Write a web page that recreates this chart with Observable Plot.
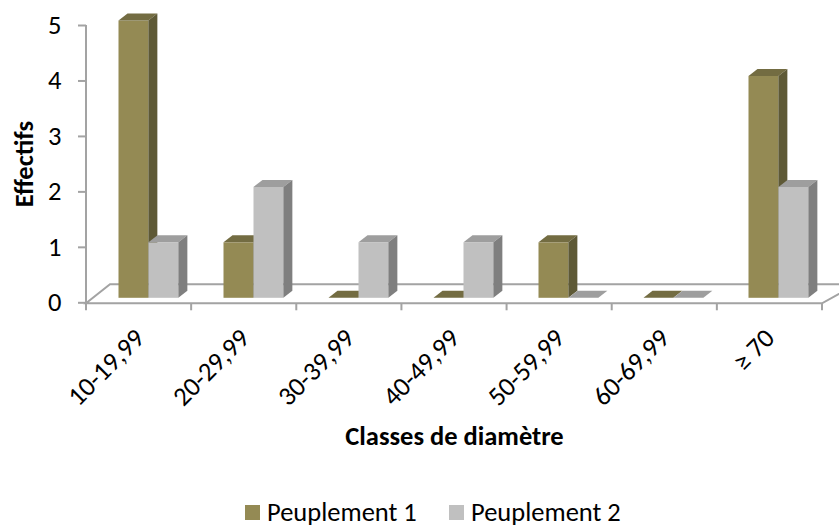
<!DOCTYPE html>
<html>
<head>
<meta charset="utf-8">
<script src="https://cdn.jsdelivr.net/npm/d3@7"></script>
<script src="https://cdn.jsdelivr.net/npm/@observablehq/plot@0.6"></script>
<style>
  body { margin: 0; background: #fff; }
  #wrap { position: relative; width: 839px; height: 527px; background: #fff; font-family: Carlito, Calibri, Lato, sans-serif; }
  #chart { position: absolute; left: 0; top: 0; }
  .item { position: absolute; top: 498px; height: 28px; display: flex; align-items: center; font-size: 26.5px; line-height: 28px; color: #000; white-space: nowrap; }
  .sw { width: 15px; height: 15px; margin-right: 7px; }
</style>
</head>
<body>
<div id="wrap">
  <div id="chart"></div>
  <div id="legend"></div>
</div>
<script>
// ---- data ----
const categories = ["10-19,99", "20-29,99", "30-39,99", "40-49,99", "50-59,99", "60-69,99", "≥ 70"];
const peuplement1 = [5, 1, 0, 0, 1, 0, 4];
const peuplement2 = [1, 2, 1, 1, 0, 0, 2];
const seriesNames = ["Peuplement 1", "Peuplement 2"];
const yTicks = [0, 1, 2, 3, 4, 5];
const xTitle = "Classes de diamètre";
const yTitle = "Effectifs";

// ---- styles ----
const frontColors = ["#948A54", "#C0C0C0"];
const topColors = ["#736C42", "#9E9E9E"];
const sideColors = ["#5E5936", "#7F7F7F"];
const gridColor = "#A3A3A3";
const FONT = "Carlito, Calibri, Lato, sans-serif";
const FS = 26.5;

const seriesValues = [peuplement1, peuplement2];
const data = categories.flatMap((c, i) =>
  seriesNames.map((s, k) => ({cat: c, series: s, k, value: seriesValues[k][i]})));

const DX = 9, DY = 7; // bar depth in pixels
const NS = "http://www.w3.org/2000/svg";

function bars3d(k, insetLeft, insetRight) {
  return Plot.barY(data.filter(d => d.k === k), {
    x: "cat", y: "value", fill: frontColors[k],
    insetLeft, insetRight, dy: -4.5,
    render(index, scales, values, dimensions, context, next) {
      const g = next(index, scales, values, dimensions, context);
      for (const r of Array.from(g.querySelectorAll("rect"))) {
        const x = +r.getAttribute("x"), y = +r.getAttribute("y");
        const w = +r.getAttribute("width"), h = +(r.getAttribute("height") || 0);
        const top = document.createElementNS(NS, "polygon");
        top.setAttribute("points", `${x},${y} ${x + w},${y} ${x + w + DX},${y - DY} ${x + DX},${y - DY}`);
        top.setAttribute("fill", topColors[k]);
        const side = document.createElementNS(NS, "polygon");
        side.setAttribute("points", `${x + w},${y} ${x + w + DX},${y - DY} ${x + w + DX},${y + h - DY} ${x + w},${y + h}`);
        side.setAttribute("fill", sideColors[k]);
        r.after(top);
        top.after(side);
      }
      return g;
    }
  });
}

function floorMark(index, scales, values, dimensions) {
  const {width, marginLeft, marginRight} = dimensions;
  const xa = marginLeft, xb = width - marginRight;
  const step = (xb - xa) / categories.length;
  const y0 = scales.y(0) + 1;
  const yTop = scales.y(d3.max(yTicks));
  const g = d3.create("svg:g").attr("fill", "none").attr("stroke", gridColor).attr("stroke-width", 2);
  g.append("path").attr("fill", "#fff")
    .attr("d", `M${xa},${y0}L${xb},${y0}L${xb + 34},${y0 - 19}L${xa + 24},${y0 - 19}Z`);
  g.append("path").attr("d", `M${xa},${yTop}V${y0}`);
  for (let i = 0; i <= categories.length; i++) {
    g.append("path").attr("d", `M${xa + i * step},${y0}V${y0 + 7}`);
  }
  return g.node();
}

const bw = (822 - 86) / categories.length;

const chart = Plot.plot({
  width: 839, height: 480,
  marginLeft: 86, marginRight: 17, marginTop: 25, marginBottom: 177.7,
  style: {fontFamily: FONT, fontSize: FS + "px", color: "#000", background: "#fff", overflow: "hidden"},
  x: {type: "band", domain: categories, padding: 0},
  y: {domain: [0, 5]},
  marks: [
    floorMark,
    bars3d(0, 31.5, bw - 61.5),
    bars3d(1, 61.5, bw - 91.5),
    Plot.axisY({ticks: yTicks, tickSize: 8, tickPadding: 17, stroke: gridColor, strokeWidth: 2, fill: "#000", label: null, tickFormat: d3.format("d"), fontSize: FS}),
    Plot.axisX({tickSize: 0, tickRotate: -45, tickPadding: 31, fill: "#000", label: null, fontSize: FS}),
    Plot.text([yTitle], {text: d => d, frameAnchor: "left", textAnchor: "middle", lineAnchor: "middle", rotate: -90, dx: -61.5, fontWeight: "bold", fontSize: FS}),
    Plot.text([xTitle], {text: d => d, frameAnchor: "bottom", textAnchor: "middle", lineAnchor: "middle", dy: 134, fontWeight: "bold", fontSize: FS})
  ]
});
document.getElementById("chart").appendChild(chart);

// ---- legend ----
const legend = document.getElementById("legend");
const legendLeft = [245, 449];
seriesNames.forEach((s, k) => {
  const it = document.createElement("div");
  it.className = "item";
  it.style.left = legendLeft[k] + "px";
  const sw = document.createElement("span");
  sw.className = "sw";
  sw.style.background = frontColors[k];
  const tx = document.createElement("span");
  tx.textContent = s;
  it.appendChild(sw);
  it.appendChild(tx);
  legend.appendChild(it);
});
</script>
</body>
</html>
